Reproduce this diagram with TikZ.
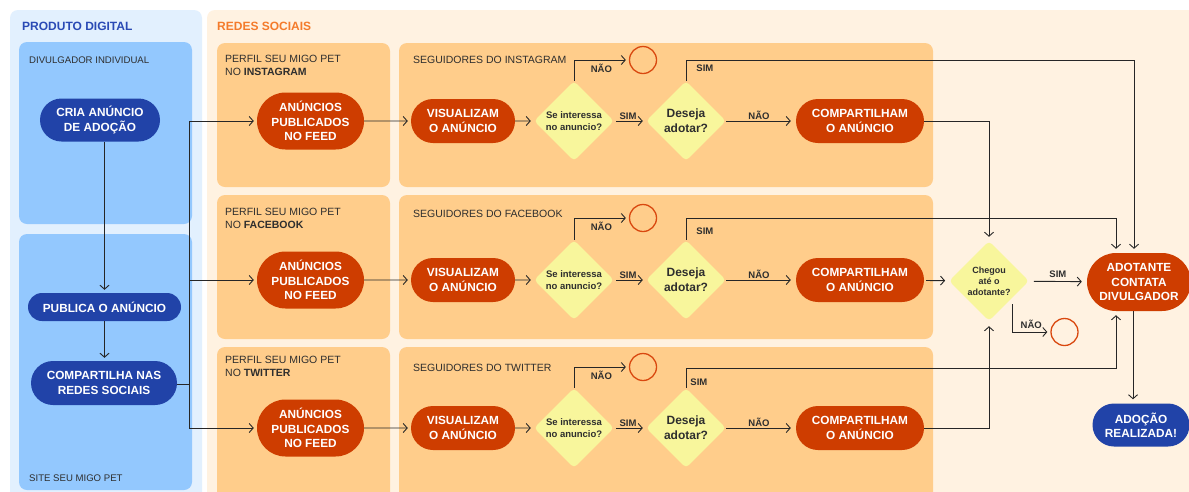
\documentclass[tikz,border=0pt]{standalone}
\usepackage{fontspec}
\setmainfont{Liberation Sans}
\usetikzlibrary{shapes.geometric}
\usetikzlibrary{shapes.misc}
\usetikzlibrary{arrows.meta}

\definecolor{azulfundo}{HTML}{E2F0FE}
\definecolor{azulcaixa}{HTML}{93C8FE}
\definecolor{azulno}{HTML}{2143A8}
\definecolor{azultit}{HTML}{2A4AB5}
\definecolor{creme}{HTML}{FFF2E1}
\definecolor{laranjacx}{HTML}{FFCD8B}
\definecolor{vermelho}{HTML}{CE3D00}
\definecolor{amarelo}{HTML}{F8F69C}
\definecolor{laranjatit}{HTML}{F47B2B}
\definecolor{linha}{HTML}{262626}
\definecolor{texto}{HTML}{2E2E2E}
\definecolor{circ}{HTML}{D9480F}

\tikzset{
	acao/.style={rounded rectangle, fill=azulno, text=white, inner sep=0pt, align=center,
		font=\fontsize{11.8}{14.5}\selectfont\bfseries},
	rede/.style={acao, fill=vermelho},
	decisao/.style={diamond, fill=amarelo, rounded corners=4pt, minimum size=80pt, inner sep=0pt,
		align=center, text=texto, font=\fontsize{9.5}{12}\selectfont\bfseries},
	fim/.style={circle, draw=circ, line width=1.3pt, minimum size=27pt, inner sep=0pt},
	rotulo/.style={text=texto, inner sep=1pt, font=\fontsize{9.5}{11}\selectfont\bfseries},
	legenda/.style={anchor=base west, align=left, inner sep=0pt, text=texto,
		font=\fontsize{10.5}{13}\selectfont},
	titulo/.style={anchor=base west, inner sep=0pt, font=\fontsize{12}{14}\selectfont\bfseries},
	seta/.style={draw=linha, line width=0.9pt, -{Straight Barb[length=4pt,width=9pt]}, shorten >=3pt},
	liga/.style={draw=linha, line width=0.9pt}
}

\begin{document}
\begin{tikzpicture}[x=1pt,y=-1pt]

	\useasboundingbox (0,0) rectangle (1189,491);
	\fill[white] (0,0) rectangle (1189,491);

	%Produto digital
	\fill[azulfundo, rounded corners=8pt] (10,10) rectangle (202,505);
	\fill[azulcaixa, rounded corners=8pt] (19,42) rectangle (192,224);
	\fill[azulcaixa, rounded corners=8pt] (19,234) rectangle (192,490);
	\node[titulo, text=azultit] (tprod) at (22,30) {PRODUTO DIGITAL};
	\node[legenda, font=\fontsize{9.6}{12}\selectfont] (ldiv) at (29,63) {DIVULGADOR INDIVIDUAL};
	\node[legenda, font=\fontsize{9.6}{12}\selectfont] (lsite) at (29,481) {SITE SEU MIGO PET};

	%Redes sociais
	\fill[creme, rounded corners=8pt] (207,10) rectangle (1200,505);
	\node[titulo, text=laranjatit] (tredes) at (217,30) {REDES SOCIAIS};
	\foreach \yt/\yb in {43/187, 195/339, 347/500}{
		\fill[laranjacx, rounded corners=8pt] (217,\yt) rectangle (390,\yb);
		\fill[laranjacx, rounded corners=8pt] (399,\yt) rectangle (933,\yb);
	}
	\node[legenda] (lper1) at (225,75) {PERFIL SEU MIGO PET\\NO \textbf{INSTAGRAM}};
	\node[legenda] (lper2) at (225,228) {PERFIL SEU MIGO PET\\NO \textbf{FACEBOOK}};
	\node[legenda] (lper3) at (225,376) {PERFIL SEU MIGO PET\\NO \textbf{TWITTER}};
	\node[legenda] (lseg1) at (413,63) {SEGUIDORES DO INSTAGRAM};
	\node[legenda] (lseg2) at (413,217) {SEGUIDORES DO FACEBOOK};
	\node[legenda] (lseg3) at (413,371) {SEGUIDORES DO TWITTER};

	%Divulgador
	\node[acao, minimum width=120pt, minimum height=43pt] (cria) at (100,120) {CRIA ANÚNCIO\\DE ADOÇÃO};
	\node[acao, minimum width=153pt, minimum height=28pt] (publica) at (104.5,307) {PUBLICA O ANÚNCIO};
	\node[acao, minimum width=146pt, minimum height=44pt] (compart) at (104,383) {COMPARTILHA NAS\\REDES SOCIAIS};
	\coordinate (divide) at (189,384);

	%Linhas de cada rede
	\foreach \r/\y/\yn in {1/121/60, 2/280/218, 3/428/367}{
		\node[rede, minimum width=107pt, minimum height=57pt] (anu\r) at (310.5,\y) {ANÚNCIOS\\PUBLICADOS\\NO FEED};
		\node[rede, minimum width=104pt, minimum height=44pt] (vis\r) at (463,\y) {VISUALIZAM\\O ANÚNCIO};
		\node[decisao] (int\r) at (574,\y) {Se interessa\\no anuncio?};
		\node[decisao, font=\fontsize{12}{15}\selectfont\bfseries] (des\r) at (686,\y) {Deseja\\adotar?};
		\node[rede, minimum width=128pt, minimum height=44pt] (comp\r) at (860,\y) {COMPARTILHAM\\O ANÚNCIO};
		\node[fim] (fim\r) at (643,\yn) {};
		\draw[seta] (divide) |- (anu\r.west);
		\draw[seta] (anu\r) -- (vis\r);
		\draw[seta] (vis\r) -- (int\r);
		\draw[seta, shorten <=2pt] (int\r) -- node[rotulo, above, xshift=-2pt] {SIM} (des\r);
		\draw[seta, shorten >=5pt] (des\r) -- node[rotulo, above, xshift=-2pt] {NÃO} (comp\r);
		\draw[seta] (int\r.north) |- node[rotulo, pos=0.75, below=3pt] {NÃO} (fim\r.west);
	}

	%Final
	\node[decisao, font=\fontsize{9}{11}\selectfont\bfseries] (chegou) at (989,281) {Chegou\\até o\\adotante?};
	\node[rede, minimum width=104pt, minimum height=58pt] (adot) at (1139,282) {ADOTANTE\\CONTATA\\DIVULGADOR};
	\node[acao, minimum width=97pt, minimum height=43pt] (real) at (1141,425) {ADOÇÃO\\REALIZADA!};
	\node[fim] (fim4) at (1064.5,332) {};

	%Setas
	\draw[seta] (cria.south -| publica) -- (publica.north);
	\draw[seta] (publica.south) -- (publica.south |- compart.north);
	\draw[liga] (compart.east |- divide) -- (divide);
	\draw[seta, shorten >=4pt] (des1.north) -- ++(0,-20) node[rotulo, anchor=north west, xshift=9pt, yshift=-3pt] {SIM} -| ([xshift=-5pt]adot.north);
	\draw[seta, shorten >=4pt] (des2.north) -- ++(0,-21) node[rotulo, anchor=north west, xshift=9pt, yshift=-8pt] {SIM} -| ([xshift=-23pt]adot.north);
	\draw[seta, shorten >=4pt] (des3.north) -- ++(0,-19) node[rotulo, anchor=north west, xshift=3pt, yshift=-9pt] {SIM} -| ([xshift=-23pt]adot.south);
	\draw[seta, shorten >=4pt] (comp1.east) -| (chegou.north);
	\draw[seta, shorten >=4pt, shorten <=2pt] (comp2) -- (chegou);
	\draw[seta, shorten >=5pt] (comp3.east) -| (chegou.south);
	\draw[seta, shorten >=5pt, shorten <=5pt] (chegou) -- node[rotulo, above=2pt] {SIM} (adot);
	\draw[seta] ([xshift=3pt,yshift=-3pt]chegou.south east) |- node[rotulo, pos=0.75, above=2pt] {NÃO} (fim4.west);
	\draw[seta, shorten >=4pt] ([xshift=-6pt]adot.south) -- ([xshift=-6pt]adot.south |- real.north);

\end{tikzpicture}
\end{document}
